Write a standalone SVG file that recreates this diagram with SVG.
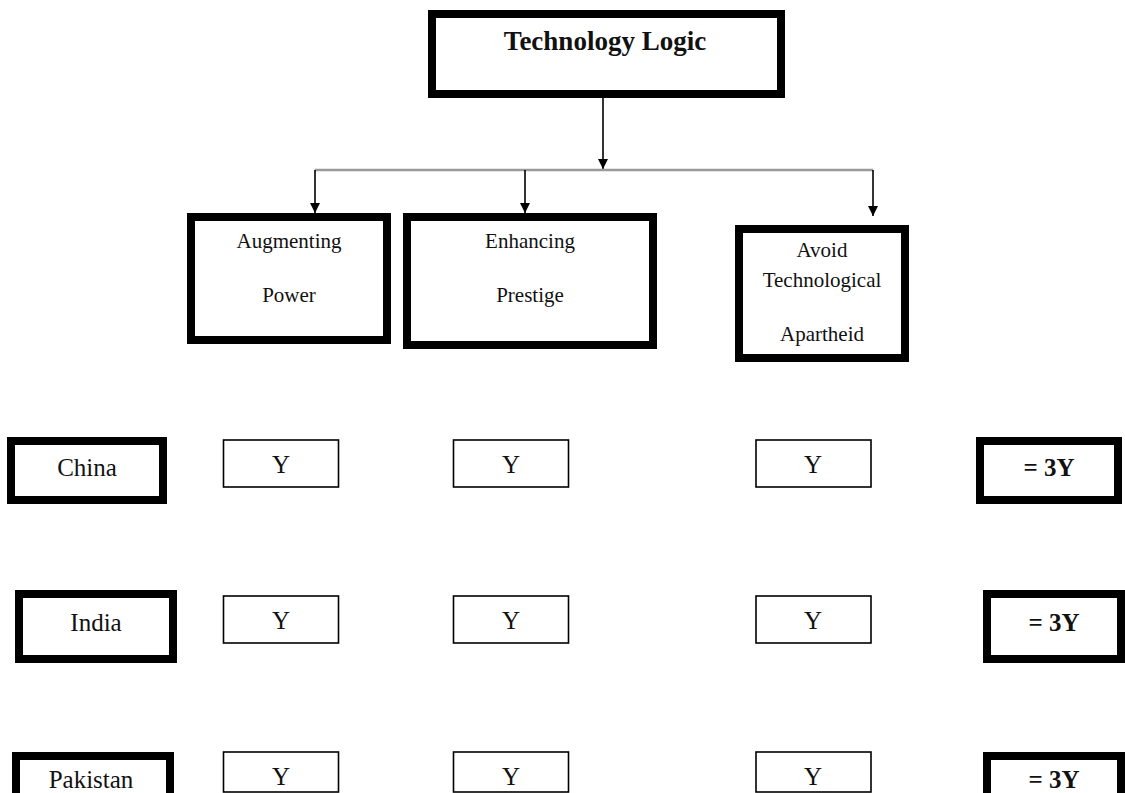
<svg xmlns="http://www.w3.org/2000/svg" width="1125" height="793" viewBox="0 0 1125 793">
<style>
.thick{fill:#fff;stroke:#000;stroke-width:8}
.thin{fill:#fff;stroke:#000;stroke-width:1.6}
.t{font-family:"Liberation Serif","Times New Roman",serif;fill:#111;text-anchor:middle}
.lbl{font-size:21px}
.row{font-size:25px}
.b{font-weight:bold}
.conn{stroke:#000;stroke-width:1.6;fill:none}
.bar{stroke:#9a9a9a;stroke-width:2.5;fill:none}
</style>
<defs>
<marker id="ah" viewBox="0 0 10 10" refX="10" refY="5" markerWidth="10" markerHeight="10" markerUnits="userSpaceOnUse" orient="auto">
<path d="M0,0 L10,5 L0,10 z" fill="#000"/>
</marker>
</defs>
<rect width="1125" height="793" fill="#fff"/>
<g id="connectors">
<line class="conn" x1="603" y1="98" x2="603" y2="169" marker-end="url(#ah)"/>
<line class="bar" x1="315" y1="170" x2="873" y2="170"/>
<line class="conn" x1="315" y1="170" x2="315" y2="213" marker-end="url(#ah)"/>
<line class="conn" x1="525" y1="170" x2="525" y2="213" marker-end="url(#ah)"/>
<line class="conn" x1="873" y1="170" x2="873" y2="216" marker-end="url(#ah)"/>
</g>
<g id="technology-logic">
<rect class="thick" x="432" y="14" width="349" height="80"/>
<text class="t b" x="605" y="50" font-size="27">Technology Logic</text>
</g>
<g id="augmenting-power">
<rect class="thick" x="191" y="217" width="196" height="123"/>
<text class="t lbl" x="289" y="248">Augmenting</text>
<text class="t lbl" x="289" y="302">Power</text>
</g>
<g id="enhancing-prestige">
<rect class="thick" x="407" y="217" width="246" height="128"/>
<text class="t lbl" x="530" y="248">Enhancing</text>
<text class="t lbl" x="530" y="302">Prestige</text>
</g>
<g id="avoid-apartheid">
<rect class="thick" x="739" y="229" width="166" height="129"/>
<text class="t lbl" x="822" y="257">Avoid</text>
<text class="t lbl" x="822" y="287">Technological</text>
<text class="t lbl" x="822" y="341">Apartheid</text>
</g>
<g id="china">
<rect class="thick" x="11" y="441" width="152" height="59"/>
<text class="t row" x="87" y="476">China</text>
</g>
<g id="china-y1"><rect class="thin" x="223.5" y="440" width="115" height="47"/><text class="t row" x="281" y="473">Y</text></g>
<g id="china-y2"><rect class="thin" x="453.5" y="440" width="115" height="47"/><text class="t row" x="511" y="473">Y</text></g>
<g id="china-y3"><rect class="thin" x="756" y="440" width="115" height="47"/><text class="t row" x="813" y="473">Y</text></g>
<g id="china-total">
<rect class="thick" x="980" y="441" width="138" height="59"/>
<text class="t row b" x="1049" y="476">= 3Y</text>
</g>
<g id="india">
<rect class="thick" x="19" y="594" width="154" height="65"/>
<text class="t row" x="96" y="631">India</text>
</g>
<g id="india-y1"><rect class="thin" x="223.5" y="596" width="115" height="47"/><text class="t row" x="281" y="629">Y</text></g>
<g id="india-y2"><rect class="thin" x="453.5" y="596" width="115" height="47"/><text class="t row" x="511" y="629">Y</text></g>
<g id="india-y3"><rect class="thin" x="756" y="596" width="115" height="47"/><text class="t row" x="813" y="629">Y</text></g>
<g id="india-total">
<rect class="thick" x="987" y="594" width="134" height="65"/>
<text class="t row b" x="1054" y="631">= 3Y</text>
</g>
<g id="pakistan">
<rect class="thick" x="16" y="756" width="154" height="50"/>
<text class="t row" x="91" y="788">Pakistan</text>
</g>
<g id="pakistan-y1"><rect class="thin" x="223.5" y="752" width="115" height="40"/><text class="t row" x="281" y="785">Y</text></g>
<g id="pakistan-y2"><rect class="thin" x="453.5" y="752" width="115" height="40"/><text class="t row" x="511" y="785">Y</text></g>
<g id="pakistan-y3"><rect class="thin" x="756" y="752" width="115" height="40"/><text class="t row" x="813" y="785">Y</text></g>
<g id="pakistan-total">
<rect class="thick" x="987" y="756" width="134" height="50"/>
<text class="t row b" x="1054" y="788">= 3Y</text>
</g>
</svg>
